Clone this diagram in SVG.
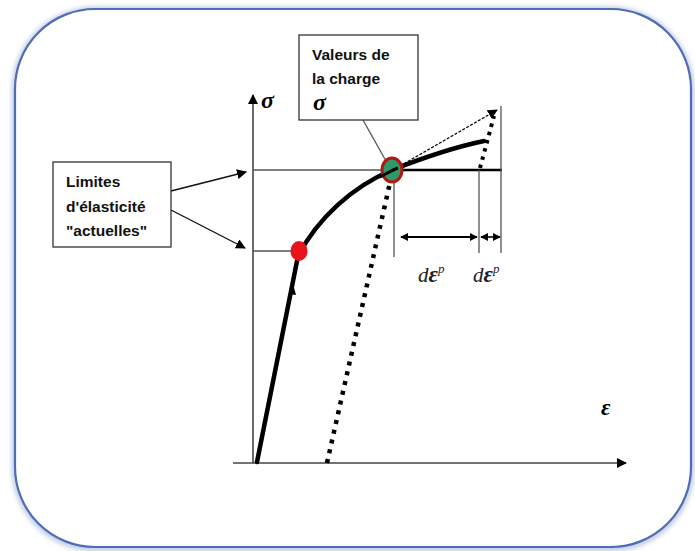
<svg xmlns="http://www.w3.org/2000/svg" width="695" height="551" viewBox="0 0 695 551">
  <defs>
    <marker id="ah" viewBox="0 0 10 10" refX="9" refY="5" markerWidth="10" markerHeight="10" markerUnits="userSpaceOnUse" orient="auto-start-reverse">
      <path d="M0,0 L10,5 L0,10 z" fill="#000"/>
    </marker>
    <marker id="ahs" viewBox="0 0 10 10" refX="9" refY="5" markerWidth="8" markerHeight="8" markerUnits="userSpaceOnUse" orient="auto-start-reverse">
      <path d="M0,0 L10,5 L0,10 z" fill="#000"/>
    </marker>
    <filter id="sh" x="-5%" y="-5%" width="110%" height="110%">
      <feGaussianBlur stdDeviation="2.5"/>
    </filter>
  </defs>
  <style>
    .box { fill: #fff; stroke: #333; stroke-width: 1.3; }
    .lbl { font-family: "Liberation Sans", Arial, sans-serif; font-weight: bold; font-size: 15.5px; fill: #111; }
    .sym { font-family: "Liberation Serif", "Times New Roman", serif; font-weight: bold; font-style: italic; fill: #000; }
    .thin { stroke: #555; stroke-width: 1.3; fill: none; }
    .axis { stroke: #444; stroke-width: 1.6; fill: none; }
  </style>
  <rect width="695" height="551" fill="#fff"/>

  <!-- frame -->
  <g id="frame">
    <rect x="15" y="10" width="676" height="538" rx="80" ry="80" fill="none" stroke="#b8c8e0" stroke-width="6" filter="url(#sh)"/>
    <rect x="15" y="9" width="676" height="538" rx="80" ry="80" fill="#fff" stroke="#4f6cb5" stroke-width="2.2"/>
  </g>

  <!-- axes -->
  <g id="axes">
    <line class="axis" x1="253" y1="463" x2="253" y2="95" marker-end="url(#ah)"/>
    <line class="axis" x1="233" y1="463" x2="626" y2="463" marker-end="url(#ah)"/>
    <text class="sym" x="261" y="108" font-size="24">σ</text>
    <text class="sym" x="601" y="415" font-size="23">ε</text>
  </g>

  <g id="connectors">
    <!-- guide lines -->
    <line class="thin" x1="253" y1="170" x2="392" y2="170" stroke="#333"/>
    <line class="thin" x1="253" y1="251" x2="298" y2="251" stroke="#333"/>
    <line x1="392" y1="170" x2="502" y2="170" stroke="#000" stroke-width="2.6"/>
    <line class="thin" x1="394" y1="170" x2="394" y2="257"/>
    <line class="thin" x1="479" y1="170" x2="479" y2="253"/>
    <line class="thin" x1="501" y1="106" x2="501" y2="253"/>

    <!-- unloading dotted lines -->
    <line x1="327" y1="463" x2="391" y2="178" stroke="#000" stroke-width="4.5" stroke-dasharray="4 6"/>
    <line x1="480" y1="168" x2="494" y2="116" stroke="#000" stroke-width="4" stroke-dasharray="3.5 5"/>

    <!-- thin arrow to next state -->
    <line x1="400" y1="166" x2="497" y2="110" stroke="#000" stroke-width="1.4" stroke-dasharray="3 1.5" marker-end="url(#ah)"/>

    <!-- main curve -->
    <path d="M257,462 L298,256 C318,218 352,187 392,170 C425,157 455,147 484,141" fill="none" stroke="#000" stroke-width="4.5" stroke-linecap="round"/>
    <path d="M289,294 L293,284 L296,295 z" fill="#000"/>

    <!-- d eps arrows -->
    <line x1="401" y1="237" x2="477" y2="237" stroke="#000" stroke-width="2" marker-start="url(#ahs)" marker-end="url(#ahs)"/>
    <line x1="481" y1="237" x2="500" y2="237" stroke="#000" stroke-width="1.6" marker-start="url(#ahs)" marker-end="url(#ahs)"/>

    <!-- callout lines -->
    <line x1="171" y1="191" x2="246" y2="172" stroke="#111" stroke-width="1.4" marker-end="url(#ah)"/>
    <line x1="171" y1="210" x2="245" y2="248" stroke="#111" stroke-width="1.4" marker-end="url(#ah)"/>
    <line x1="363" y1="120" x2="386" y2="161" stroke="#555" stroke-width="1.3"/>
  </g>

  <!-- points -->
  <g id="point-elastic">
    <ellipse cx="299" cy="251" rx="8.5" ry="10" fill="#e8141c"/>
  </g>
  <g id="point-load">
    <ellipse cx="392" cy="170" rx="10" ry="12" fill="#2e9a6a" stroke="#b01818" stroke-width="3"/>
    <path d="M380,177 C386,174 390,171 398,168" stroke="#000" stroke-width="3" fill="none"/>
  </g>

  <!-- labels d eps^p -->
  <g id="deps-labels">
    <text x="418" y="282" font-family="Liberation Serif, serif" font-size="21" font-style="italic" fill="#222">d<tspan font-weight="bold" font-size="23">ε</tspan><tspan font-size="13" dy="-9">p</tspan></text>
    <text x="473" y="282" font-family="Liberation Serif, serif" font-size="21" font-style="italic" fill="#222">d<tspan font-weight="bold" font-size="23">ε</tspan><tspan font-size="13" dy="-9">p</tspan></text>
  </g>

  <!-- Valeurs de la charge box -->
  <g id="node-valeurs">
    <rect class="box" x="299" y="35" width="119" height="85"/>
    <text class="lbl" x="312" y="60">Valeurs de</text>
    <text class="lbl" x="312" y="84">la charge</text>
    <text class="sym" x="313" y="110" font-size="24">σ</text>
  </g>

  <!-- Limites box -->
  <g id="node-limites">
    <rect class="box" x="53" y="162" width="118" height="85"/>
    <text class="lbl" x="66" y="187">Limites</text>
    <text class="lbl" x="66" y="212">d'élasticité</text>
    <text class="lbl" x="66" y="236">"actuelles"</text>
  </g>
</svg>
